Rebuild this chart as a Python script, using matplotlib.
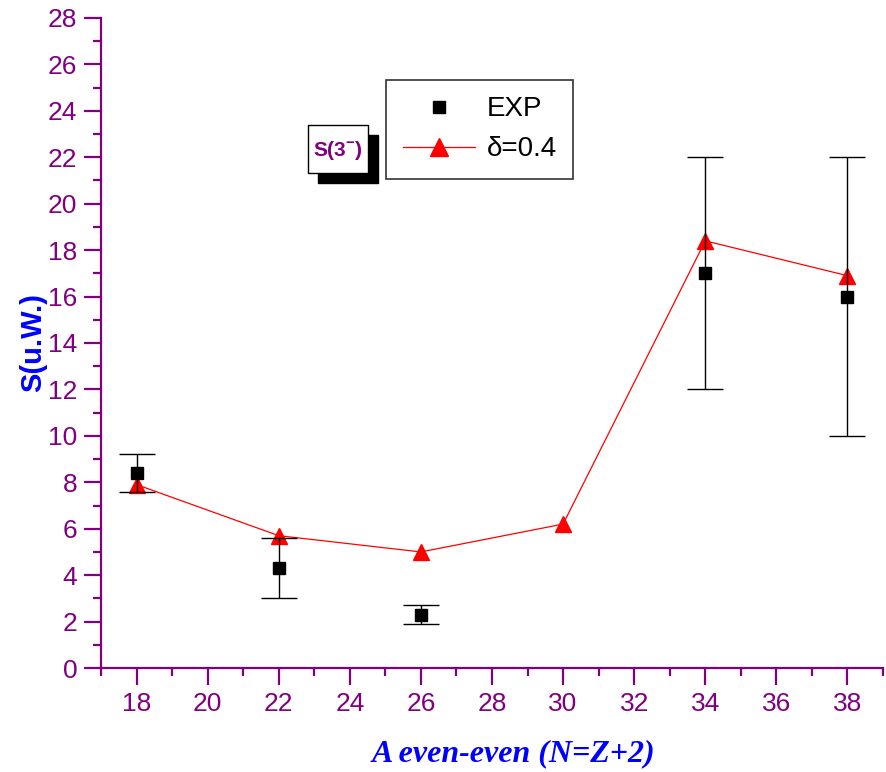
import matplotlib.pyplot as plt
from matplotlib.patches import Rectangle
from matplotlib.lines import Line2D

# nuclear mass number A for even-even nuclei with N = Z + 2
A_exp = [18, 22, 26, 34, 38]
S_exp = [8.4, 4.3, 2.3, 17.0, 16.0]
S_err = [0.8, 1.3, 0.4, 5.0, 6.0]

A_calc = [18, 22, 26, 30, 34, 38]
S_calc = [7.9, 5.7, 5.0, 6.2, 18.4, 16.9]

purple = '#800080'
plt.rcParams['font.family'] = ['Liberation Sans', 'DejaVu Sans']

fig = plt.figure(figsize=(8.86, 7.72), dpi=100)
ax = fig.add_axes([0.114, 0.1347, 0.8826, 0.842])

ax.plot(A_calc, S_calc, '-', color='red', lw=0.9, marker='^', ms=12,
        mec='red', mfc='red', zorder=3)
ax.errorbar(A_exp, S_exp, yerr=S_err, fmt='s', color='black', ms=9,
            ecolor='black', elinewidth=1.0, capsize=13, capthick=1.0, zorder=4)

ax.set_xlim(17, 39)
ax.set_ylim(0, 28)
ax.set_xticks(range(18, 39, 2))
ax.set_xticks(range(17, 40, 1), minor=True)
ax.set_yticks(range(0, 29, 2))
ax.set_yticks(range(0, 29, 1), minor=True)

for s in ['top', 'right']:
    ax.spines[s].set_visible(False)
for s in ['left', 'bottom']:
    ax.spines[s].set_color(purple)
    ax.spines[s].set_linewidth(1.6)
ax.tick_params(which='major', direction='out', length=12, width=1.6,
               color=purple, labelcolor=purple, labelsize=19, pad=5)
ax.tick_params(which='minor', direction='out', length=6, width=1.6, color=purple)

ax.set_ylabel('S(u.W.)', color='blue', fontsize=21, fontweight='bold')
ax.yaxis.set_label_coords(-0.069, 0.5)
ax.set_xlabel('A even-even (N=Z+2)', color='blue', fontsize=23,
              fontstyle='italic', fontweight='bold', family='Liberation Serif')
ax.xaxis.set_label_coords(0.528, -0.11)

# legend box
leg_handles = [
    Line2D([], [], ls='none', marker='s', color='black', ms=9),
    Line2D([], [], ls='-', lw=0.9, color='red', marker='^', ms=13),
]
leg = ax.legend(leg_handles, ['EXP', 'δ=0.4'], loc='upper left',
                bbox_to_anchor=(0.365, 0.905), fontsize=20, frameon=True,
                fancybox=False, edgecolor='black', handlelength=2.6,
                borderpad=0.6, labelspacing=0.5, handletextpad=0.4,
                borderaxespad=0)
leg.get_frame().set_linewidth(1.2)

# shadowed label box
fig.patches.append(Rectangle((318 / 886, 1 - 183 / 772), 60 / 886, 48 / 772,
                             transform=fig.transFigure, facecolor='black',
                             edgecolor='black', zorder=5))
fig.patches.append(Rectangle((308 / 886, 1 - 173 / 772), 60 / 886, 48 / 772,
                             transform=fig.transFigure, facecolor='white',
                             edgecolor='black', lw=1.0, zorder=6))
fig.text(338 / 886, 1 - 150 / 772, r'S(3$^{\mathdefault{-}}$)', color=purple,
         fontsize=15, fontweight='bold', ha='center', va='center', zorder=7)

fig.savefig('out.png', dpi=100)
